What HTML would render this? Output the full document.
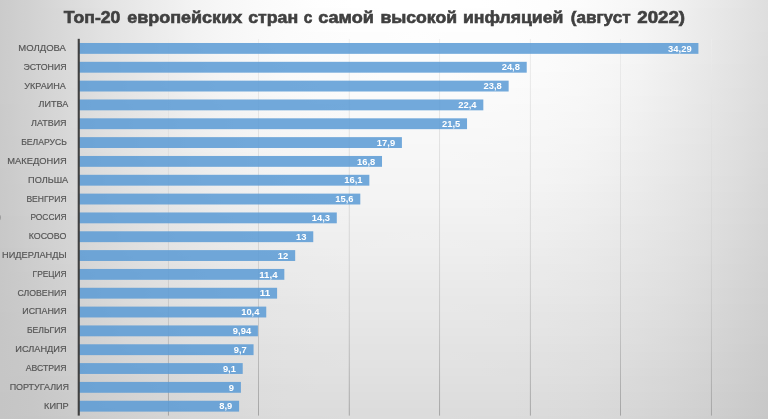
<!DOCTYPE html>
<html lang="ru"><head><meta charset="utf-8"><title>Топ-20 европейских стран с самой высокой инфляцией</title>
<style>
html,body{margin:0;padding:0;background:#e6e6e6;}
body{width:768px;height:419px;overflow:hidden;font-family:"Liberation Sans",sans-serif;}
svg{display:block;will-change:transform;}
text{font-family:"Liberation Sans",sans-serif;}
.lbl{font-size:8.6px;fill:#555555;stroke:#555555;stroke-width:0.16px;}
.val{font-size:8.8px;fill:#ffffff;font-weight:bold;}
.ttl{font-size:17.2px;fill:#404040;font-weight:bold;stroke:#404040;stroke-width:0.62px;}
</style></head><body>
<svg width="768" height="419" viewBox="0 0 768 419">
<defs>
<linearGradient id="b0" gradientUnits="userSpaceOnUse" x1="0" y1="0" x2="768" y2="0"><stop offset="0.0000" stop-color="#cbcbcb"/><stop offset="0.0417" stop-color="#d2d2d2"/><stop offset="0.0833" stop-color="#dadada"/><stop offset="0.1250" stop-color="#e1e1e1"/><stop offset="0.1667" stop-color="#e7e7e7"/><stop offset="0.2083" stop-color="#ededed"/><stop offset="0.2500" stop-color="#f3f3f3"/><stop offset="0.2917" stop-color="#f7f7f7"/><stop offset="0.3333" stop-color="#fafafa"/><stop offset="0.3750" stop-color="#fcfcfc"/><stop offset="0.4167" stop-color="#fefefe"/><stop offset="0.4583" stop-color="#ffffff"/><stop offset="0.5000" stop-color="#ffffff"/><stop offset="0.5417" stop-color="#ffffff"/><stop offset="0.5833" stop-color="#ffffff"/><stop offset="0.6250" stop-color="#ffffff"/><stop offset="0.6667" stop-color="#fefefe"/><stop offset="0.7083" stop-color="#fdfdfd"/><stop offset="0.7500" stop-color="#fcfcfc"/><stop offset="0.7917" stop-color="#f9f9f9"/><stop offset="0.8333" stop-color="#f6f6f6"/><stop offset="0.8750" stop-color="#f1f1f1"/><stop offset="0.9167" stop-color="#ebebeb"/><stop offset="0.9583" stop-color="#e5e5e5"/><stop offset="1.0000" stop-color="#dedede"/></linearGradient>
<linearGradient id="b1" gradientUnits="userSpaceOnUse" x1="0" y1="0" x2="768" y2="0"><stop offset="0.0000" stop-color="#cbcbcb"/><stop offset="0.0417" stop-color="#d2d2d2"/><stop offset="0.0833" stop-color="#d9d9d9"/><stop offset="0.1250" stop-color="#e0e0e0"/><stop offset="0.1667" stop-color="#e7e7e7"/><stop offset="0.2083" stop-color="#ededed"/><stop offset="0.2500" stop-color="#f3f3f3"/><stop offset="0.2917" stop-color="#f7f7f7"/><stop offset="0.3333" stop-color="#fafafa"/><stop offset="0.3750" stop-color="#fcfcfc"/><stop offset="0.4167" stop-color="#fdfdfd"/><stop offset="0.4583" stop-color="#fefefe"/><stop offset="0.5000" stop-color="#ffffff"/><stop offset="0.5417" stop-color="#ffffff"/><stop offset="0.5833" stop-color="#ffffff"/><stop offset="0.6250" stop-color="#fefefe"/><stop offset="0.6667" stop-color="#fefefe"/><stop offset="0.7083" stop-color="#fdfdfd"/><stop offset="0.7500" stop-color="#fbfbfb"/><stop offset="0.7917" stop-color="#f9f9f9"/><stop offset="0.8333" stop-color="#f5f5f5"/><stop offset="0.8750" stop-color="#f1f1f1"/><stop offset="0.9167" stop-color="#eaeaea"/><stop offset="0.9583" stop-color="#e4e4e4"/><stop offset="1.0000" stop-color="#dedede"/></linearGradient>
<linearGradient id="b2" gradientUnits="userSpaceOnUse" x1="0" y1="0" x2="768" y2="0"><stop offset="0.0000" stop-color="#cbcbcb"/><stop offset="0.0417" stop-color="#d2d2d2"/><stop offset="0.0833" stop-color="#d9d9d9"/><stop offset="0.1250" stop-color="#e0e0e0"/><stop offset="0.1667" stop-color="#e6e6e6"/><stop offset="0.2083" stop-color="#ededed"/><stop offset="0.2500" stop-color="#f3f3f3"/><stop offset="0.2917" stop-color="#f7f7f7"/><stop offset="0.3333" stop-color="#fafafa"/><stop offset="0.3750" stop-color="#fcfcfc"/><stop offset="0.4167" stop-color="#fdfdfd"/><stop offset="0.4583" stop-color="#fefefe"/><stop offset="0.5000" stop-color="#fefefe"/><stop offset="0.5417" stop-color="#fefefe"/><stop offset="0.5833" stop-color="#fefefe"/><stop offset="0.6250" stop-color="#fefefe"/><stop offset="0.6667" stop-color="#fefefe"/><stop offset="0.7083" stop-color="#fdfdfd"/><stop offset="0.7500" stop-color="#fbfbfb"/><stop offset="0.7917" stop-color="#f9f9f9"/><stop offset="0.8333" stop-color="#f5f5f5"/><stop offset="0.8750" stop-color="#f0f0f0"/><stop offset="0.9167" stop-color="#eaeaea"/><stop offset="0.9583" stop-color="#e4e4e4"/><stop offset="1.0000" stop-color="#dedede"/></linearGradient>
<linearGradient id="b3" gradientUnits="userSpaceOnUse" x1="0" y1="0" x2="768" y2="0"><stop offset="0.0000" stop-color="#cbcbcb"/><stop offset="0.0417" stop-color="#d2d2d2"/><stop offset="0.0833" stop-color="#d9d9d9"/><stop offset="0.1250" stop-color="#e0e0e0"/><stop offset="0.1667" stop-color="#e6e6e6"/><stop offset="0.2083" stop-color="#ececec"/><stop offset="0.2500" stop-color="#f2f2f2"/><stop offset="0.2917" stop-color="#f6f6f6"/><stop offset="0.3333" stop-color="#f9f9f9"/><stop offset="0.3750" stop-color="#fbfbfb"/><stop offset="0.4167" stop-color="#fdfdfd"/><stop offset="0.4583" stop-color="#fefefe"/><stop offset="0.5000" stop-color="#fefefe"/><stop offset="0.5417" stop-color="#fefefe"/><stop offset="0.5833" stop-color="#fefefe"/><stop offset="0.6250" stop-color="#fefefe"/><stop offset="0.6667" stop-color="#fdfdfd"/><stop offset="0.7083" stop-color="#fcfcfc"/><stop offset="0.7500" stop-color="#fbfbfb"/><stop offset="0.7917" stop-color="#f8f8f8"/><stop offset="0.8333" stop-color="#f5f5f5"/><stop offset="0.8750" stop-color="#f0f0f0"/><stop offset="0.9167" stop-color="#eaeaea"/><stop offset="0.9583" stop-color="#e4e4e4"/><stop offset="1.0000" stop-color="#dedede"/></linearGradient>
<linearGradient id="b4" gradientUnits="userSpaceOnUse" x1="0" y1="0" x2="768" y2="0"><stop offset="0.0000" stop-color="#cbcbcb"/><stop offset="0.0417" stop-color="#d2d2d2"/><stop offset="0.0833" stop-color="#d9d9d9"/><stop offset="0.1250" stop-color="#e0e0e0"/><stop offset="0.1667" stop-color="#e6e6e6"/><stop offset="0.2083" stop-color="#ececec"/><stop offset="0.2500" stop-color="#f2f2f2"/><stop offset="0.2917" stop-color="#f6f6f6"/><stop offset="0.3333" stop-color="#f9f9f9"/><stop offset="0.3750" stop-color="#fbfbfb"/><stop offset="0.4167" stop-color="#fcfcfc"/><stop offset="0.4583" stop-color="#fdfdfd"/><stop offset="0.5000" stop-color="#fdfdfd"/><stop offset="0.5417" stop-color="#fefefe"/><stop offset="0.5833" stop-color="#fdfdfd"/><stop offset="0.6250" stop-color="#fdfdfd"/><stop offset="0.6667" stop-color="#fdfdfd"/><stop offset="0.7083" stop-color="#fcfcfc"/><stop offset="0.7500" stop-color="#fbfbfb"/><stop offset="0.7917" stop-color="#f8f8f8"/><stop offset="0.8333" stop-color="#f5f5f5"/><stop offset="0.8750" stop-color="#f0f0f0"/><stop offset="0.9167" stop-color="#eaeaea"/><stop offset="0.9583" stop-color="#e4e4e4"/><stop offset="1.0000" stop-color="#dddddd"/></linearGradient>
<linearGradient id="b5" gradientUnits="userSpaceOnUse" x1="0" y1="0" x2="768" y2="0"><stop offset="0.0000" stop-color="#cbcbcb"/><stop offset="0.0417" stop-color="#d2d2d2"/><stop offset="0.0833" stop-color="#d9d9d9"/><stop offset="0.1250" stop-color="#e0e0e0"/><stop offset="0.1667" stop-color="#e6e6e6"/><stop offset="0.2083" stop-color="#ececec"/><stop offset="0.2500" stop-color="#f2f2f2"/><stop offset="0.2917" stop-color="#f6f6f6"/><stop offset="0.3333" stop-color="#f9f9f9"/><stop offset="0.3750" stop-color="#fbfbfb"/><stop offset="0.4167" stop-color="#fcfcfc"/><stop offset="0.4583" stop-color="#fdfdfd"/><stop offset="0.5000" stop-color="#fdfdfd"/><stop offset="0.5417" stop-color="#fdfdfd"/><stop offset="0.5833" stop-color="#fdfdfd"/><stop offset="0.6250" stop-color="#fdfdfd"/><stop offset="0.6667" stop-color="#fdfdfd"/><stop offset="0.7083" stop-color="#fcfcfc"/><stop offset="0.7500" stop-color="#fafafa"/><stop offset="0.7917" stop-color="#f7f7f7"/><stop offset="0.8333" stop-color="#f4f4f4"/><stop offset="0.8750" stop-color="#efefef"/><stop offset="0.9167" stop-color="#e9e9e9"/><stop offset="0.9583" stop-color="#e3e3e3"/><stop offset="1.0000" stop-color="#dddddd"/></linearGradient>
<linearGradient id="b6" gradientUnits="userSpaceOnUse" x1="0" y1="0" x2="768" y2="0"><stop offset="0.0000" stop-color="#cbcbcb"/><stop offset="0.0417" stop-color="#d2d2d2"/><stop offset="0.0833" stop-color="#d9d9d9"/><stop offset="0.1250" stop-color="#e0e0e0"/><stop offset="0.1667" stop-color="#e6e6e6"/><stop offset="0.2083" stop-color="#ececec"/><stop offset="0.2500" stop-color="#f1f1f1"/><stop offset="0.2917" stop-color="#f6f6f6"/><stop offset="0.3333" stop-color="#f8f8f8"/><stop offset="0.3750" stop-color="#fbfbfb"/><stop offset="0.4167" stop-color="#fcfcfc"/><stop offset="0.4583" stop-color="#fcfcfc"/><stop offset="0.5000" stop-color="#fdfdfd"/><stop offset="0.5417" stop-color="#fdfdfd"/><stop offset="0.5833" stop-color="#fdfdfd"/><stop offset="0.6250" stop-color="#fdfdfd"/><stop offset="0.6667" stop-color="#fcfcfc"/><stop offset="0.7083" stop-color="#fbfbfb"/><stop offset="0.7500" stop-color="#fafafa"/><stop offset="0.7917" stop-color="#f7f7f7"/><stop offset="0.8333" stop-color="#f4f4f4"/><stop offset="0.8750" stop-color="#efefef"/><stop offset="0.9167" stop-color="#e9e9e9"/><stop offset="0.9583" stop-color="#e3e3e3"/><stop offset="1.0000" stop-color="#dddddd"/></linearGradient>
<linearGradient id="b7" gradientUnits="userSpaceOnUse" x1="0" y1="0" x2="768" y2="0"><stop offset="0.0000" stop-color="#cbcbcb"/><stop offset="0.0417" stop-color="#d2d2d2"/><stop offset="0.0833" stop-color="#d9d9d9"/><stop offset="0.1250" stop-color="#e0e0e0"/><stop offset="0.1667" stop-color="#e6e6e6"/><stop offset="0.2083" stop-color="#ececec"/><stop offset="0.2500" stop-color="#f1f1f1"/><stop offset="0.2917" stop-color="#f5f5f5"/><stop offset="0.3333" stop-color="#f8f8f8"/><stop offset="0.3750" stop-color="#fafafa"/><stop offset="0.4167" stop-color="#fbfbfb"/><stop offset="0.4583" stop-color="#fcfcfc"/><stop offset="0.5000" stop-color="#fcfcfc"/><stop offset="0.5417" stop-color="#fcfcfc"/><stop offset="0.5833" stop-color="#fcfcfc"/><stop offset="0.6250" stop-color="#fcfcfc"/><stop offset="0.6667" stop-color="#fcfcfc"/><stop offset="0.7083" stop-color="#fbfbfb"/><stop offset="0.7500" stop-color="#f9f9f9"/><stop offset="0.7917" stop-color="#f7f7f7"/><stop offset="0.8333" stop-color="#f4f4f4"/><stop offset="0.8750" stop-color="#eeeeee"/><stop offset="0.9167" stop-color="#e9e9e9"/><stop offset="0.9583" stop-color="#e3e3e3"/><stop offset="1.0000" stop-color="#dcdcdc"/></linearGradient>
<linearGradient id="b8" gradientUnits="userSpaceOnUse" x1="0" y1="0" x2="768" y2="0"><stop offset="0.0000" stop-color="#cbcbcb"/><stop offset="0.0417" stop-color="#d2d2d2"/><stop offset="0.0833" stop-color="#d9d9d9"/><stop offset="0.1250" stop-color="#e0e0e0"/><stop offset="0.1667" stop-color="#e6e6e6"/><stop offset="0.2083" stop-color="#ebebeb"/><stop offset="0.2500" stop-color="#f1f1f1"/><stop offset="0.2917" stop-color="#f5f5f5"/><stop offset="0.3333" stop-color="#f8f8f8"/><stop offset="0.3750" stop-color="#fafafa"/><stop offset="0.4167" stop-color="#fbfbfb"/><stop offset="0.4583" stop-color="#fcfcfc"/><stop offset="0.5000" stop-color="#fcfcfc"/><stop offset="0.5417" stop-color="#fcfcfc"/><stop offset="0.5833" stop-color="#fcfcfc"/><stop offset="0.6250" stop-color="#fcfcfc"/><stop offset="0.6667" stop-color="#fbfbfb"/><stop offset="0.7083" stop-color="#fbfbfb"/><stop offset="0.7500" stop-color="#f9f9f9"/><stop offset="0.7917" stop-color="#f6f6f6"/><stop offset="0.8333" stop-color="#f3f3f3"/><stop offset="0.8750" stop-color="#eeeeee"/><stop offset="0.9167" stop-color="#e8e8e8"/><stop offset="0.9583" stop-color="#e2e2e2"/><stop offset="1.0000" stop-color="#dcdcdc"/></linearGradient>
<linearGradient id="b9" gradientUnits="userSpaceOnUse" x1="0" y1="0" x2="768" y2="0"><stop offset="0.0000" stop-color="#cbcbcb"/><stop offset="0.0417" stop-color="#d2d2d2"/><stop offset="0.0833" stop-color="#d9d9d9"/><stop offset="0.1250" stop-color="#dfdfdf"/><stop offset="0.1667" stop-color="#e5e5e5"/><stop offset="0.2083" stop-color="#ebebeb"/><stop offset="0.2500" stop-color="#f0f0f0"/><stop offset="0.2917" stop-color="#f5f5f5"/><stop offset="0.3333" stop-color="#f7f7f7"/><stop offset="0.3750" stop-color="#fafafa"/><stop offset="0.4167" stop-color="#fbfbfb"/><stop offset="0.4583" stop-color="#fbfbfb"/><stop offset="0.5000" stop-color="#fcfcfc"/><stop offset="0.5417" stop-color="#fcfcfc"/><stop offset="0.5833" stop-color="#fcfcfc"/><stop offset="0.6250" stop-color="#fbfbfb"/><stop offset="0.6667" stop-color="#fbfbfb"/><stop offset="0.7083" stop-color="#fafafa"/><stop offset="0.7500" stop-color="#f8f8f8"/><stop offset="0.7917" stop-color="#f6f6f6"/><stop offset="0.8333" stop-color="#f3f3f3"/><stop offset="0.8750" stop-color="#ededed"/><stop offset="0.9167" stop-color="#e8e8e8"/><stop offset="0.9583" stop-color="#e2e2e2"/><stop offset="1.0000" stop-color="#dcdcdc"/></linearGradient>
<linearGradient id="b10" gradientUnits="userSpaceOnUse" x1="0" y1="0" x2="768" y2="0"><stop offset="0.0000" stop-color="#cbcbcb"/><stop offset="0.0417" stop-color="#d1d1d1"/><stop offset="0.0833" stop-color="#d9d9d9"/><stop offset="0.1250" stop-color="#dfdfdf"/><stop offset="0.1667" stop-color="#e5e5e5"/><stop offset="0.2083" stop-color="#ebebeb"/><stop offset="0.2500" stop-color="#f0f0f0"/><stop offset="0.2917" stop-color="#f4f4f4"/><stop offset="0.3333" stop-color="#f7f7f7"/><stop offset="0.3750" stop-color="#f9f9f9"/><stop offset="0.4167" stop-color="#fafafa"/><stop offset="0.4583" stop-color="#fbfbfb"/><stop offset="0.5000" stop-color="#fbfbfb"/><stop offset="0.5417" stop-color="#fbfbfb"/><stop offset="0.5833" stop-color="#fbfbfb"/><stop offset="0.6250" stop-color="#fbfbfb"/><stop offset="0.6667" stop-color="#fbfbfb"/><stop offset="0.7083" stop-color="#fafafa"/><stop offset="0.7500" stop-color="#f8f8f8"/><stop offset="0.7917" stop-color="#f6f6f6"/><stop offset="0.8333" stop-color="#f2f2f2"/><stop offset="0.8750" stop-color="#ededed"/><stop offset="0.9167" stop-color="#e7e7e7"/><stop offset="0.9583" stop-color="#e2e2e2"/><stop offset="1.0000" stop-color="#dbdbdb"/></linearGradient>
<linearGradient id="b11" gradientUnits="userSpaceOnUse" x1="0" y1="0" x2="768" y2="0"><stop offset="0.0000" stop-color="#cbcbcb"/><stop offset="0.0417" stop-color="#d1d1d1"/><stop offset="0.0833" stop-color="#d8d8d8"/><stop offset="0.1250" stop-color="#dfdfdf"/><stop offset="0.1667" stop-color="#e5e5e5"/><stop offset="0.2083" stop-color="#eaeaea"/><stop offset="0.2500" stop-color="#f0f0f0"/><stop offset="0.2917" stop-color="#f4f4f4"/><stop offset="0.3333" stop-color="#f7f7f7"/><stop offset="0.3750" stop-color="#f9f9f9"/><stop offset="0.4167" stop-color="#fafafa"/><stop offset="0.4583" stop-color="#fbfbfb"/><stop offset="0.5000" stop-color="#fbfbfb"/><stop offset="0.5417" stop-color="#fbfbfb"/><stop offset="0.5833" stop-color="#fbfbfb"/><stop offset="0.6250" stop-color="#fbfbfb"/><stop offset="0.6667" stop-color="#fafafa"/><stop offset="0.7083" stop-color="#f9f9f9"/><stop offset="0.7500" stop-color="#f8f8f8"/><stop offset="0.7917" stop-color="#f5f5f5"/><stop offset="0.8333" stop-color="#f2f2f2"/><stop offset="0.8750" stop-color="#ededed"/><stop offset="0.9167" stop-color="#e7e7e7"/><stop offset="0.9583" stop-color="#e1e1e1"/><stop offset="1.0000" stop-color="#dbdbdb"/></linearGradient>
<linearGradient id="b12" gradientUnits="userSpaceOnUse" x1="0" y1="0" x2="768" y2="0"><stop offset="0.0000" stop-color="#cbcbcb"/><stop offset="0.0417" stop-color="#d1d1d1"/><stop offset="0.0833" stop-color="#d8d8d8"/><stop offset="0.1250" stop-color="#dfdfdf"/><stop offset="0.1667" stop-color="#e5e5e5"/><stop offset="0.2083" stop-color="#eaeaea"/><stop offset="0.2500" stop-color="#efefef"/><stop offset="0.2917" stop-color="#f4f4f4"/><stop offset="0.3333" stop-color="#f6f6f6"/><stop offset="0.3750" stop-color="#f8f8f8"/><stop offset="0.4167" stop-color="#fafafa"/><stop offset="0.4583" stop-color="#fafafa"/><stop offset="0.5000" stop-color="#fafafa"/><stop offset="0.5417" stop-color="#fafafa"/><stop offset="0.5833" stop-color="#fafafa"/><stop offset="0.6250" stop-color="#fafafa"/><stop offset="0.6667" stop-color="#fafafa"/><stop offset="0.7083" stop-color="#f9f9f9"/><stop offset="0.7500" stop-color="#f7f7f7"/><stop offset="0.7917" stop-color="#f5f5f5"/><stop offset="0.8333" stop-color="#f1f1f1"/><stop offset="0.8750" stop-color="#ececec"/><stop offset="0.9167" stop-color="#e7e7e7"/><stop offset="0.9583" stop-color="#e1e1e1"/><stop offset="1.0000" stop-color="#dbdbdb"/></linearGradient>
<linearGradient id="b13" gradientUnits="userSpaceOnUse" x1="0" y1="0" x2="768" y2="0"><stop offset="0.0000" stop-color="#cacaca"/><stop offset="0.0417" stop-color="#d1d1d1"/><stop offset="0.0833" stop-color="#d8d8d8"/><stop offset="0.1250" stop-color="#dfdfdf"/><stop offset="0.1667" stop-color="#e4e4e4"/><stop offset="0.2083" stop-color="#eaeaea"/><stop offset="0.2500" stop-color="#efefef"/><stop offset="0.2917" stop-color="#f3f3f3"/><stop offset="0.3333" stop-color="#f6f6f6"/><stop offset="0.3750" stop-color="#f8f8f8"/><stop offset="0.4167" stop-color="#f9f9f9"/><stop offset="0.4583" stop-color="#fafafa"/><stop offset="0.5000" stop-color="#fafafa"/><stop offset="0.5417" stop-color="#fafafa"/><stop offset="0.5833" stop-color="#fafafa"/><stop offset="0.6250" stop-color="#fafafa"/><stop offset="0.6667" stop-color="#f9f9f9"/><stop offset="0.7083" stop-color="#f8f8f8"/><stop offset="0.7500" stop-color="#f7f7f7"/><stop offset="0.7917" stop-color="#f4f4f4"/><stop offset="0.8333" stop-color="#f1f1f1"/><stop offset="0.8750" stop-color="#ececec"/><stop offset="0.9167" stop-color="#e6e6e6"/><stop offset="0.9583" stop-color="#e1e1e1"/><stop offset="1.0000" stop-color="#dadada"/></linearGradient>
<linearGradient id="b14" gradientUnits="userSpaceOnUse" x1="0" y1="0" x2="768" y2="0"><stop offset="0.0000" stop-color="#cacaca"/><stop offset="0.0417" stop-color="#d1d1d1"/><stop offset="0.0833" stop-color="#d8d8d8"/><stop offset="0.1250" stop-color="#dfdfdf"/><stop offset="0.1667" stop-color="#e4e4e4"/><stop offset="0.2083" stop-color="#e9e9e9"/><stop offset="0.2500" stop-color="#efefef"/><stop offset="0.2917" stop-color="#f3f3f3"/><stop offset="0.3333" stop-color="#f5f5f5"/><stop offset="0.3750" stop-color="#f7f7f7"/><stop offset="0.4167" stop-color="#f8f8f8"/><stop offset="0.4583" stop-color="#f9f9f9"/><stop offset="0.5000" stop-color="#f9f9f9"/><stop offset="0.5417" stop-color="#f9f9f9"/><stop offset="0.5833" stop-color="#f9f9f9"/><stop offset="0.6250" stop-color="#f9f9f9"/><stop offset="0.6667" stop-color="#f9f9f9"/><stop offset="0.7083" stop-color="#f8f8f8"/><stop offset="0.7500" stop-color="#f6f6f6"/><stop offset="0.7917" stop-color="#f4f4f4"/><stop offset="0.8333" stop-color="#f0f0f0"/><stop offset="0.8750" stop-color="#ebebeb"/><stop offset="0.9167" stop-color="#e6e6e6"/><stop offset="0.9583" stop-color="#e0e0e0"/><stop offset="1.0000" stop-color="#dadada"/></linearGradient>
<linearGradient id="b15" gradientUnits="userSpaceOnUse" x1="0" y1="0" x2="768" y2="0"><stop offset="0.0000" stop-color="#cacaca"/><stop offset="0.0417" stop-color="#d1d1d1"/><stop offset="0.0833" stop-color="#d8d8d8"/><stop offset="0.1250" stop-color="#dedede"/><stop offset="0.1667" stop-color="#e4e4e4"/><stop offset="0.2083" stop-color="#e9e9e9"/><stop offset="0.2500" stop-color="#eeeeee"/><stop offset="0.2917" stop-color="#f2f2f2"/><stop offset="0.3333" stop-color="#f5f5f5"/><stop offset="0.3750" stop-color="#f7f7f7"/><stop offset="0.4167" stop-color="#f8f8f8"/><stop offset="0.4583" stop-color="#f9f9f9"/><stop offset="0.5000" stop-color="#f9f9f9"/><stop offset="0.5417" stop-color="#f9f9f9"/><stop offset="0.5833" stop-color="#f9f9f9"/><stop offset="0.6250" stop-color="#f9f9f9"/><stop offset="0.6667" stop-color="#f8f8f8"/><stop offset="0.7083" stop-color="#f7f7f7"/><stop offset="0.7500" stop-color="#f6f6f6"/><stop offset="0.7917" stop-color="#f4f4f4"/><stop offset="0.8333" stop-color="#efefef"/><stop offset="0.8750" stop-color="#ebebeb"/><stop offset="0.9167" stop-color="#e6e6e6"/><stop offset="0.9583" stop-color="#e0e0e0"/><stop offset="1.0000" stop-color="#dadada"/></linearGradient>
<linearGradient id="b16" gradientUnits="userSpaceOnUse" x1="0" y1="0" x2="768" y2="0"><stop offset="0.0000" stop-color="#cacaca"/><stop offset="0.0417" stop-color="#d1d1d1"/><stop offset="0.0833" stop-color="#d7d7d7"/><stop offset="0.1250" stop-color="#dedede"/><stop offset="0.1667" stop-color="#e4e4e4"/><stop offset="0.2083" stop-color="#e9e9e9"/><stop offset="0.2500" stop-color="#eeeeee"/><stop offset="0.2917" stop-color="#f2f2f2"/><stop offset="0.3333" stop-color="#f5f5f5"/><stop offset="0.3750" stop-color="#f6f6f6"/><stop offset="0.4167" stop-color="#f7f7f7"/><stop offset="0.4583" stop-color="#f8f8f8"/><stop offset="0.5000" stop-color="#f8f8f8"/><stop offset="0.5417" stop-color="#f8f8f8"/><stop offset="0.5833" stop-color="#f8f8f8"/><stop offset="0.6250" stop-color="#f8f8f8"/><stop offset="0.6667" stop-color="#f8f8f8"/><stop offset="0.7083" stop-color="#f7f7f7"/><stop offset="0.7500" stop-color="#f5f5f5"/><stop offset="0.7917" stop-color="#f3f3f3"/><stop offset="0.8333" stop-color="#efefef"/><stop offset="0.8750" stop-color="#eaeaea"/><stop offset="0.9167" stop-color="#e5e5e5"/><stop offset="0.9583" stop-color="#e0e0e0"/><stop offset="1.0000" stop-color="#d9d9d9"/></linearGradient>
<linearGradient id="b17" gradientUnits="userSpaceOnUse" x1="0" y1="0" x2="768" y2="0"><stop offset="0.0000" stop-color="#cacaca"/><stop offset="0.0417" stop-color="#d0d0d0"/><stop offset="0.0833" stop-color="#d7d7d7"/><stop offset="0.1250" stop-color="#dedede"/><stop offset="0.1667" stop-color="#e3e3e3"/><stop offset="0.2083" stop-color="#e8e8e8"/><stop offset="0.2500" stop-color="#ededed"/><stop offset="0.2917" stop-color="#f1f1f1"/><stop offset="0.3333" stop-color="#f4f4f4"/><stop offset="0.3750" stop-color="#f6f6f6"/><stop offset="0.4167" stop-color="#f7f7f7"/><stop offset="0.4583" stop-color="#f7f7f7"/><stop offset="0.5000" stop-color="#f8f8f8"/><stop offset="0.5417" stop-color="#f8f8f8"/><stop offset="0.5833" stop-color="#f8f8f8"/><stop offset="0.6250" stop-color="#f8f8f8"/><stop offset="0.6667" stop-color="#f7f7f7"/><stop offset="0.7083" stop-color="#f6f6f6"/><stop offset="0.7500" stop-color="#f5f5f5"/><stop offset="0.7917" stop-color="#f2f2f2"/><stop offset="0.8333" stop-color="#eeeeee"/><stop offset="0.8750" stop-color="#eaeaea"/><stop offset="0.9167" stop-color="#e5e5e5"/><stop offset="0.9583" stop-color="#dfdfdf"/><stop offset="1.0000" stop-color="#d9d9d9"/></linearGradient>
<linearGradient id="b18" gradientUnits="userSpaceOnUse" x1="0" y1="0" x2="768" y2="0"><stop offset="0.0000" stop-color="#cacaca"/><stop offset="0.0417" stop-color="#d0d0d0"/><stop offset="0.0833" stop-color="#d7d7d7"/><stop offset="0.1250" stop-color="#dedede"/><stop offset="0.1667" stop-color="#e3e3e3"/><stop offset="0.2083" stop-color="#e8e8e8"/><stop offset="0.2500" stop-color="#ededed"/><stop offset="0.2917" stop-color="#f1f1f1"/><stop offset="0.3333" stop-color="#f4f4f4"/><stop offset="0.3750" stop-color="#f5f5f5"/><stop offset="0.4167" stop-color="#f6f6f6"/><stop offset="0.4583" stop-color="#f7f7f7"/><stop offset="0.5000" stop-color="#f7f7f7"/><stop offset="0.5417" stop-color="#f7f7f7"/><stop offset="0.5833" stop-color="#f7f7f7"/><stop offset="0.6250" stop-color="#f7f7f7"/><stop offset="0.6667" stop-color="#f7f7f7"/><stop offset="0.7083" stop-color="#f6f6f6"/><stop offset="0.7500" stop-color="#f4f4f4"/><stop offset="0.7917" stop-color="#f2f2f2"/><stop offset="0.8333" stop-color="#eeeeee"/><stop offset="0.8750" stop-color="#e9e9e9"/><stop offset="0.9167" stop-color="#e4e4e4"/><stop offset="0.9583" stop-color="#dfdfdf"/><stop offset="1.0000" stop-color="#d9d9d9"/></linearGradient>
<linearGradient id="b19" gradientUnits="userSpaceOnUse" x1="0" y1="0" x2="768" y2="0"><stop offset="0.0000" stop-color="#cacaca"/><stop offset="0.0417" stop-color="#d0d0d0"/><stop offset="0.0833" stop-color="#d7d7d7"/><stop offset="0.1250" stop-color="#dddddd"/><stop offset="0.1667" stop-color="#e3e3e3"/><stop offset="0.2083" stop-color="#e8e8e8"/><stop offset="0.2500" stop-color="#ececec"/><stop offset="0.2917" stop-color="#f0f0f0"/><stop offset="0.3333" stop-color="#f3f3f3"/><stop offset="0.3750" stop-color="#f5f5f5"/><stop offset="0.4167" stop-color="#f6f6f6"/><stop offset="0.4583" stop-color="#f6f6f6"/><stop offset="0.5000" stop-color="#f7f7f7"/><stop offset="0.5417" stop-color="#f7f7f7"/><stop offset="0.5833" stop-color="#f7f7f7"/><stop offset="0.6250" stop-color="#f6f6f6"/><stop offset="0.6667" stop-color="#f6f6f6"/><stop offset="0.7083" stop-color="#f5f5f5"/><stop offset="0.7500" stop-color="#f4f4f4"/><stop offset="0.7917" stop-color="#f1f1f1"/><stop offset="0.8333" stop-color="#ededed"/><stop offset="0.8750" stop-color="#e9e9e9"/><stop offset="0.9167" stop-color="#e4e4e4"/><stop offset="0.9583" stop-color="#dfdfdf"/><stop offset="1.0000" stop-color="#d8d8d8"/></linearGradient>
<linearGradient id="b20" gradientUnits="userSpaceOnUse" x1="0" y1="0" x2="768" y2="0"><stop offset="0.0000" stop-color="#cacaca"/><stop offset="0.0417" stop-color="#d0d0d0"/><stop offset="0.0833" stop-color="#d6d6d6"/><stop offset="0.1250" stop-color="#dddddd"/><stop offset="0.1667" stop-color="#e2e2e2"/><stop offset="0.2083" stop-color="#e7e7e7"/><stop offset="0.2500" stop-color="#ececec"/><stop offset="0.2917" stop-color="#f0f0f0"/><stop offset="0.3333" stop-color="#f3f3f3"/><stop offset="0.3750" stop-color="#f4f4f4"/><stop offset="0.4167" stop-color="#f5f5f5"/><stop offset="0.4583" stop-color="#f6f6f6"/><stop offset="0.5000" stop-color="#f6f6f6"/><stop offset="0.5417" stop-color="#f6f6f6"/><stop offset="0.5833" stop-color="#f6f6f6"/><stop offset="0.6250" stop-color="#f6f6f6"/><stop offset="0.6667" stop-color="#f5f5f5"/><stop offset="0.7083" stop-color="#f5f5f5"/><stop offset="0.7500" stop-color="#f3f3f3"/><stop offset="0.7917" stop-color="#f0f0f0"/><stop offset="0.8333" stop-color="#ececec"/><stop offset="0.8750" stop-color="#e8e8e8"/><stop offset="0.9167" stop-color="#e3e3e3"/><stop offset="0.9583" stop-color="#dedede"/><stop offset="1.0000" stop-color="#d8d8d8"/></linearGradient>
<linearGradient id="b21" gradientUnits="userSpaceOnUse" x1="0" y1="0" x2="768" y2="0"><stop offset="0.0000" stop-color="#c9c9c9"/><stop offset="0.0417" stop-color="#d0d0d0"/><stop offset="0.0833" stop-color="#d6d6d6"/><stop offset="0.1250" stop-color="#dddddd"/><stop offset="0.1667" stop-color="#e2e2e2"/><stop offset="0.2083" stop-color="#e7e7e7"/><stop offset="0.2500" stop-color="#ebebeb"/><stop offset="0.2917" stop-color="#efefef"/><stop offset="0.3333" stop-color="#f2f2f2"/><stop offset="0.3750" stop-color="#f4f4f4"/><stop offset="0.4167" stop-color="#f5f5f5"/><stop offset="0.4583" stop-color="#f5f5f5"/><stop offset="0.5000" stop-color="#f5f5f5"/><stop offset="0.5417" stop-color="#f5f5f5"/><stop offset="0.5833" stop-color="#f5f5f5"/><stop offset="0.6250" stop-color="#f5f5f5"/><stop offset="0.6667" stop-color="#f5f5f5"/><stop offset="0.7083" stop-color="#f4f4f4"/><stop offset="0.7500" stop-color="#f2f2f2"/><stop offset="0.7917" stop-color="#f0f0f0"/><stop offset="0.8333" stop-color="#ececec"/><stop offset="0.8750" stop-color="#e8e8e8"/><stop offset="0.9167" stop-color="#e3e3e3"/><stop offset="0.9583" stop-color="#dedede"/><stop offset="1.0000" stop-color="#d7d7d7"/></linearGradient>
<linearGradient id="b22" gradientUnits="userSpaceOnUse" x1="0" y1="0" x2="768" y2="0"><stop offset="0.0000" stop-color="#c9c9c9"/><stop offset="0.0417" stop-color="#d0d0d0"/><stop offset="0.0833" stop-color="#d6d6d6"/><stop offset="0.1250" stop-color="#dcdcdc"/><stop offset="0.1667" stop-color="#e2e2e2"/><stop offset="0.2083" stop-color="#e6e6e6"/><stop offset="0.2500" stop-color="#ebebeb"/><stop offset="0.2917" stop-color="#eeeeee"/><stop offset="0.3333" stop-color="#f1f1f1"/><stop offset="0.3750" stop-color="#f3f3f3"/><stop offset="0.4167" stop-color="#f4f4f4"/><stop offset="0.4583" stop-color="#f5f5f5"/><stop offset="0.5000" stop-color="#f5f5f5"/><stop offset="0.5417" stop-color="#f5f5f5"/><stop offset="0.5833" stop-color="#f5f5f5"/><stop offset="0.6250" stop-color="#f5f5f5"/><stop offset="0.6667" stop-color="#f4f4f4"/><stop offset="0.7083" stop-color="#f4f4f4"/><stop offset="0.7500" stop-color="#f2f2f2"/><stop offset="0.7917" stop-color="#efefef"/><stop offset="0.8333" stop-color="#ebebeb"/><stop offset="0.8750" stop-color="#e7e7e7"/><stop offset="0.9167" stop-color="#e2e2e2"/><stop offset="0.9583" stop-color="#dddddd"/><stop offset="1.0000" stop-color="#d7d7d7"/></linearGradient>
<linearGradient id="b23" gradientUnits="userSpaceOnUse" x1="0" y1="0" x2="768" y2="0"><stop offset="0.0000" stop-color="#c9c9c9"/><stop offset="0.0417" stop-color="#cfcfcf"/><stop offset="0.0833" stop-color="#d6d6d6"/><stop offset="0.1250" stop-color="#dcdcdc"/><stop offset="0.1667" stop-color="#e1e1e1"/><stop offset="0.2083" stop-color="#e6e6e6"/><stop offset="0.2500" stop-color="#eaeaea"/><stop offset="0.2917" stop-color="#eeeeee"/><stop offset="0.3333" stop-color="#f1f1f1"/><stop offset="0.3750" stop-color="#f3f3f3"/><stop offset="0.4167" stop-color="#f4f4f4"/><stop offset="0.4583" stop-color="#f4f4f4"/><stop offset="0.5000" stop-color="#f4f4f4"/><stop offset="0.5417" stop-color="#f4f4f4"/><stop offset="0.5833" stop-color="#f4f4f4"/><stop offset="0.6250" stop-color="#f4f4f4"/><stop offset="0.6667" stop-color="#f4f4f4"/><stop offset="0.7083" stop-color="#f3f3f3"/><stop offset="0.7500" stop-color="#f1f1f1"/><stop offset="0.7917" stop-color="#eeeeee"/><stop offset="0.8333" stop-color="#ebebeb"/><stop offset="0.8750" stop-color="#e6e6e6"/><stop offset="0.9167" stop-color="#e2e2e2"/><stop offset="0.9583" stop-color="#dddddd"/><stop offset="1.0000" stop-color="#d6d6d6"/></linearGradient>
<linearGradient id="b24" gradientUnits="userSpaceOnUse" x1="0" y1="0" x2="768" y2="0"><stop offset="0.0000" stop-color="#c9c9c9"/><stop offset="0.0417" stop-color="#cfcfcf"/><stop offset="0.0833" stop-color="#d5d5d5"/><stop offset="0.1250" stop-color="#dcdcdc"/><stop offset="0.1667" stop-color="#e1e1e1"/><stop offset="0.2083" stop-color="#e5e5e5"/><stop offset="0.2500" stop-color="#eaeaea"/><stop offset="0.2917" stop-color="#ededed"/><stop offset="0.3333" stop-color="#f0f0f0"/><stop offset="0.3750" stop-color="#f2f2f2"/><stop offset="0.4167" stop-color="#f3f3f3"/><stop offset="0.4583" stop-color="#f4f4f4"/><stop offset="0.5000" stop-color="#f4f4f4"/><stop offset="0.5417" stop-color="#f4f4f4"/><stop offset="0.5833" stop-color="#f4f4f4"/><stop offset="0.6250" stop-color="#f4f4f4"/><stop offset="0.6667" stop-color="#f3f3f3"/><stop offset="0.7083" stop-color="#f2f2f2"/><stop offset="0.7500" stop-color="#f0f0f0"/><stop offset="0.7917" stop-color="#ededed"/><stop offset="0.8333" stop-color="#eaeaea"/><stop offset="0.8750" stop-color="#e6e6e6"/><stop offset="0.9167" stop-color="#e1e1e1"/><stop offset="0.9583" stop-color="#dcdcdc"/><stop offset="1.0000" stop-color="#d6d6d6"/></linearGradient>
<linearGradient id="b25" gradientUnits="userSpaceOnUse" x1="0" y1="0" x2="768" y2="0"><stop offset="0.0000" stop-color="#c9c9c9"/><stop offset="0.0417" stop-color="#cfcfcf"/><stop offset="0.0833" stop-color="#d5d5d5"/><stop offset="0.1250" stop-color="#dbdbdb"/><stop offset="0.1667" stop-color="#e1e1e1"/><stop offset="0.2083" stop-color="#e5e5e5"/><stop offset="0.2500" stop-color="#e9e9e9"/><stop offset="0.2917" stop-color="#ececec"/><stop offset="0.3333" stop-color="#efefef"/><stop offset="0.3750" stop-color="#f1f1f1"/><stop offset="0.4167" stop-color="#f2f2f2"/><stop offset="0.4583" stop-color="#f3f3f3"/><stop offset="0.5000" stop-color="#f3f3f3"/><stop offset="0.5417" stop-color="#f3f3f3"/><stop offset="0.5833" stop-color="#f3f3f3"/><stop offset="0.6250" stop-color="#f3f3f3"/><stop offset="0.6667" stop-color="#f2f2f2"/><stop offset="0.7083" stop-color="#f1f1f1"/><stop offset="0.7500" stop-color="#efefef"/><stop offset="0.7917" stop-color="#ededed"/><stop offset="0.8333" stop-color="#e9e9e9"/><stop offset="0.8750" stop-color="#e5e5e5"/><stop offset="0.9167" stop-color="#e1e1e1"/><stop offset="0.9583" stop-color="#dcdcdc"/><stop offset="1.0000" stop-color="#d6d6d6"/></linearGradient>
<linearGradient id="b26" gradientUnits="userSpaceOnUse" x1="0" y1="0" x2="768" y2="0"><stop offset="0.0000" stop-color="#c9c9c9"/><stop offset="0.0417" stop-color="#cfcfcf"/><stop offset="0.0833" stop-color="#d5d5d5"/><stop offset="0.1250" stop-color="#dbdbdb"/><stop offset="0.1667" stop-color="#e0e0e0"/><stop offset="0.2083" stop-color="#e5e5e5"/><stop offset="0.2500" stop-color="#e8e8e8"/><stop offset="0.2917" stop-color="#ececec"/><stop offset="0.3333" stop-color="#eeeeee"/><stop offset="0.3750" stop-color="#f0f0f0"/><stop offset="0.4167" stop-color="#f1f1f1"/><stop offset="0.4583" stop-color="#f2f2f2"/><stop offset="0.5000" stop-color="#f2f2f2"/><stop offset="0.5417" stop-color="#f2f2f2"/><stop offset="0.5833" stop-color="#f2f2f2"/><stop offset="0.6250" stop-color="#f2f2f2"/><stop offset="0.6667" stop-color="#f1f1f1"/><stop offset="0.7083" stop-color="#f0f0f0"/><stop offset="0.7500" stop-color="#eeeeee"/><stop offset="0.7917" stop-color="#ececec"/><stop offset="0.8333" stop-color="#e9e9e9"/><stop offset="0.8750" stop-color="#e5e5e5"/><stop offset="0.9167" stop-color="#e0e0e0"/><stop offset="0.9583" stop-color="#dbdbdb"/><stop offset="1.0000" stop-color="#d5d5d5"/></linearGradient>
<linearGradient id="b27" gradientUnits="userSpaceOnUse" x1="0" y1="0" x2="768" y2="0"><stop offset="0.0000" stop-color="#c8c8c8"/><stop offset="0.0417" stop-color="#cecece"/><stop offset="0.0833" stop-color="#d4d4d4"/><stop offset="0.1250" stop-color="#dadada"/><stop offset="0.1667" stop-color="#e0e0e0"/><stop offset="0.2083" stop-color="#e4e4e4"/><stop offset="0.2500" stop-color="#e8e8e8"/><stop offset="0.2917" stop-color="#ebebeb"/><stop offset="0.3333" stop-color="#eeeeee"/><stop offset="0.3750" stop-color="#efefef"/><stop offset="0.4167" stop-color="#f0f0f0"/><stop offset="0.4583" stop-color="#f1f1f1"/><stop offset="0.5000" stop-color="#f1f1f1"/><stop offset="0.5417" stop-color="#f1f1f1"/><stop offset="0.5833" stop-color="#f1f1f1"/><stop offset="0.6250" stop-color="#f1f1f1"/><stop offset="0.6667" stop-color="#f1f1f1"/><stop offset="0.7083" stop-color="#efefef"/><stop offset="0.7500" stop-color="#eeeeee"/><stop offset="0.7917" stop-color="#ebebeb"/><stop offset="0.8333" stop-color="#e8e8e8"/><stop offset="0.8750" stop-color="#e4e4e4"/><stop offset="0.9167" stop-color="#e0e0e0"/><stop offset="0.9583" stop-color="#dbdbdb"/><stop offset="1.0000" stop-color="#d5d5d5"/></linearGradient>
<linearGradient id="b28" gradientUnits="userSpaceOnUse" x1="0" y1="0" x2="768" y2="0"><stop offset="0.0000" stop-color="#c8c8c8"/><stop offset="0.0417" stop-color="#cecece"/><stop offset="0.0833" stop-color="#d4d4d4"/><stop offset="0.1250" stop-color="#dadada"/><stop offset="0.1667" stop-color="#dfdfdf"/><stop offset="0.2083" stop-color="#e4e4e4"/><stop offset="0.2500" stop-color="#e7e7e7"/><stop offset="0.2917" stop-color="#eaeaea"/><stop offset="0.3333" stop-color="#ededed"/><stop offset="0.3750" stop-color="#efefef"/><stop offset="0.4167" stop-color="#f0f0f0"/><stop offset="0.4583" stop-color="#f0f0f0"/><stop offset="0.5000" stop-color="#f0f0f0"/><stop offset="0.5417" stop-color="#f0f0f0"/><stop offset="0.5833" stop-color="#f0f0f0"/><stop offset="0.6250" stop-color="#f0f0f0"/><stop offset="0.6667" stop-color="#f0f0f0"/><stop offset="0.7083" stop-color="#efefef"/><stop offset="0.7500" stop-color="#ededed"/><stop offset="0.7917" stop-color="#eaeaea"/><stop offset="0.8333" stop-color="#e7e7e7"/><stop offset="0.8750" stop-color="#e4e4e4"/><stop offset="0.9167" stop-color="#dfdfdf"/><stop offset="0.9583" stop-color="#dadada"/><stop offset="1.0000" stop-color="#d4d4d4"/></linearGradient>
<linearGradient id="b29" gradientUnits="userSpaceOnUse" x1="0" y1="0" x2="768" y2="0"><stop offset="0.0000" stop-color="#c8c8c8"/><stop offset="0.0417" stop-color="#cecece"/><stop offset="0.0833" stop-color="#d4d4d4"/><stop offset="0.1250" stop-color="#dadada"/><stop offset="0.1667" stop-color="#dfdfdf"/><stop offset="0.2083" stop-color="#e3e3e3"/><stop offset="0.2500" stop-color="#e7e7e7"/><stop offset="0.2917" stop-color="#eaeaea"/><stop offset="0.3333" stop-color="#ececec"/><stop offset="0.3750" stop-color="#eeeeee"/><stop offset="0.4167" stop-color="#efefef"/><stop offset="0.4583" stop-color="#efefef"/><stop offset="0.5000" stop-color="#efefef"/><stop offset="0.5417" stop-color="#f0f0f0"/><stop offset="0.5833" stop-color="#efefef"/><stop offset="0.6250" stop-color="#efefef"/><stop offset="0.6667" stop-color="#efefef"/><stop offset="0.7083" stop-color="#eeeeee"/><stop offset="0.7500" stop-color="#ececec"/><stop offset="0.7917" stop-color="#eaeaea"/><stop offset="0.8333" stop-color="#e7e7e7"/><stop offset="0.8750" stop-color="#e3e3e3"/><stop offset="0.9167" stop-color="#dfdfdf"/><stop offset="0.9583" stop-color="#dadada"/><stop offset="1.0000" stop-color="#d4d4d4"/></linearGradient>
<linearGradient id="b30" gradientUnits="userSpaceOnUse" x1="0" y1="0" x2="768" y2="0"><stop offset="0.0000" stop-color="#c8c8c8"/><stop offset="0.0417" stop-color="#cecece"/><stop offset="0.0833" stop-color="#d3d3d3"/><stop offset="0.1250" stop-color="#d9d9d9"/><stop offset="0.1667" stop-color="#dedede"/><stop offset="0.2083" stop-color="#e3e3e3"/><stop offset="0.2500" stop-color="#e6e6e6"/><stop offset="0.2917" stop-color="#e9e9e9"/><stop offset="0.3333" stop-color="#ebebeb"/><stop offset="0.3750" stop-color="#ededed"/><stop offset="0.4167" stop-color="#eeeeee"/><stop offset="0.4583" stop-color="#eeeeee"/><stop offset="0.5000" stop-color="#efefef"/><stop offset="0.5417" stop-color="#efefef"/><stop offset="0.5833" stop-color="#efefef"/><stop offset="0.6250" stop-color="#eeeeee"/><stop offset="0.6667" stop-color="#eeeeee"/><stop offset="0.7083" stop-color="#ededed"/><stop offset="0.7500" stop-color="#ebebeb"/><stop offset="0.7917" stop-color="#e9e9e9"/><stop offset="0.8333" stop-color="#e6e6e6"/><stop offset="0.8750" stop-color="#e2e2e2"/><stop offset="0.9167" stop-color="#dedede"/><stop offset="0.9583" stop-color="#d9d9d9"/><stop offset="1.0000" stop-color="#d3d3d3"/></linearGradient>
<linearGradient id="b31" gradientUnits="userSpaceOnUse" x1="0" y1="0" x2="768" y2="0"><stop offset="0.0000" stop-color="#c7c7c7"/><stop offset="0.0417" stop-color="#cdcdcd"/><stop offset="0.0833" stop-color="#d3d3d3"/><stop offset="0.1250" stop-color="#d9d9d9"/><stop offset="0.1667" stop-color="#dedede"/><stop offset="0.2083" stop-color="#e2e2e2"/><stop offset="0.2500" stop-color="#e6e6e6"/><stop offset="0.2917" stop-color="#e8e8e8"/><stop offset="0.3333" stop-color="#ebebeb"/><stop offset="0.3750" stop-color="#ececec"/><stop offset="0.4167" stop-color="#ededed"/><stop offset="0.4583" stop-color="#eeeeee"/><stop offset="0.5000" stop-color="#eeeeee"/><stop offset="0.5417" stop-color="#eeeeee"/><stop offset="0.5833" stop-color="#eeeeee"/><stop offset="0.6250" stop-color="#eeeeee"/><stop offset="0.6667" stop-color="#ededed"/><stop offset="0.7083" stop-color="#ececec"/><stop offset="0.7500" stop-color="#eaeaea"/><stop offset="0.7917" stop-color="#e8e8e8"/><stop offset="0.8333" stop-color="#e5e5e5"/><stop offset="0.8750" stop-color="#e2e2e2"/><stop offset="0.9167" stop-color="#dedede"/><stop offset="0.9583" stop-color="#d8d8d8"/><stop offset="1.0000" stop-color="#d3d3d3"/></linearGradient>
<linearGradient id="b32" gradientUnits="userSpaceOnUse" x1="0" y1="0" x2="768" y2="0"><stop offset="0.0000" stop-color="#c7c7c7"/><stop offset="0.0417" stop-color="#cdcdcd"/><stop offset="0.0833" stop-color="#d3d3d3"/><stop offset="0.1250" stop-color="#d8d8d8"/><stop offset="0.1667" stop-color="#dddddd"/><stop offset="0.2083" stop-color="#e2e2e2"/><stop offset="0.2500" stop-color="#e5e5e5"/><stop offset="0.2917" stop-color="#e8e8e8"/><stop offset="0.3333" stop-color="#eaeaea"/><stop offset="0.3750" stop-color="#ebebeb"/><stop offset="0.4167" stop-color="#ececec"/><stop offset="0.4583" stop-color="#ededed"/><stop offset="0.5000" stop-color="#ededed"/><stop offset="0.5417" stop-color="#ededed"/><stop offset="0.5833" stop-color="#ededed"/><stop offset="0.6250" stop-color="#ededed"/><stop offset="0.6667" stop-color="#ececec"/><stop offset="0.7083" stop-color="#ebebeb"/><stop offset="0.7500" stop-color="#eaeaea"/><stop offset="0.7917" stop-color="#e7e7e7"/><stop offset="0.8333" stop-color="#e5e5e5"/><stop offset="0.8750" stop-color="#e1e1e1"/><stop offset="0.9167" stop-color="#dddddd"/><stop offset="0.9583" stop-color="#d8d8d8"/><stop offset="1.0000" stop-color="#d2d2d2"/></linearGradient>
<linearGradient id="b33" gradientUnits="userSpaceOnUse" x1="0" y1="0" x2="768" y2="0"><stop offset="0.0000" stop-color="#c7c7c7"/><stop offset="0.0417" stop-color="#cdcdcd"/><stop offset="0.0833" stop-color="#d2d2d2"/><stop offset="0.1250" stop-color="#d8d8d8"/><stop offset="0.1667" stop-color="#dddddd"/><stop offset="0.2083" stop-color="#e1e1e1"/><stop offset="0.2500" stop-color="#e4e4e4"/><stop offset="0.2917" stop-color="#e7e7e7"/><stop offset="0.3333" stop-color="#e9e9e9"/><stop offset="0.3750" stop-color="#ebebeb"/><stop offset="0.4167" stop-color="#ebebeb"/><stop offset="0.4583" stop-color="#ececec"/><stop offset="0.5000" stop-color="#ececec"/><stop offset="0.5417" stop-color="#ececec"/><stop offset="0.5833" stop-color="#ececec"/><stop offset="0.6250" stop-color="#ececec"/><stop offset="0.6667" stop-color="#ebebeb"/><stop offset="0.7083" stop-color="#eaeaea"/><stop offset="0.7500" stop-color="#e9e9e9"/><stop offset="0.7917" stop-color="#e7e7e7"/><stop offset="0.8333" stop-color="#e4e4e4"/><stop offset="0.8750" stop-color="#e1e1e1"/><stop offset="0.9167" stop-color="#dcdcdc"/><stop offset="0.9583" stop-color="#d7d7d7"/><stop offset="1.0000" stop-color="#d2d2d2"/></linearGradient>
<linearGradient id="b34" gradientUnits="userSpaceOnUse" x1="0" y1="0" x2="768" y2="0"><stop offset="0.0000" stop-color="#c7c7c7"/><stop offset="0.0417" stop-color="#cccccc"/><stop offset="0.0833" stop-color="#d2d2d2"/><stop offset="0.1250" stop-color="#d7d7d7"/><stop offset="0.1667" stop-color="#dcdcdc"/><stop offset="0.2083" stop-color="#e0e0e0"/><stop offset="0.2500" stop-color="#e4e4e4"/><stop offset="0.2917" stop-color="#e6e6e6"/><stop offset="0.3333" stop-color="#e8e8e8"/><stop offset="0.3750" stop-color="#eaeaea"/><stop offset="0.4167" stop-color="#ebebeb"/><stop offset="0.4583" stop-color="#ebebeb"/><stop offset="0.5000" stop-color="#ebebeb"/><stop offset="0.5417" stop-color="#ebebeb"/><stop offset="0.5833" stop-color="#ebebeb"/><stop offset="0.6250" stop-color="#ebebeb"/><stop offset="0.6667" stop-color="#eaeaea"/><stop offset="0.7083" stop-color="#eaeaea"/><stop offset="0.7500" stop-color="#e8e8e8"/><stop offset="0.7917" stop-color="#e6e6e6"/><stop offset="0.8333" stop-color="#e3e3e3"/><stop offset="0.8750" stop-color="#e0e0e0"/><stop offset="0.9167" stop-color="#dcdcdc"/><stop offset="0.9583" stop-color="#d7d7d7"/><stop offset="1.0000" stop-color="#d1d1d1"/></linearGradient>
<linearGradient id="b35" gradientUnits="userSpaceOnUse" x1="0" y1="0" x2="768" y2="0"><stop offset="0.0000" stop-color="#c7c7c7"/><stop offset="0.0417" stop-color="#cccccc"/><stop offset="0.0833" stop-color="#d1d1d1"/><stop offset="0.1250" stop-color="#d7d7d7"/><stop offset="0.1667" stop-color="#dcdcdc"/><stop offset="0.2083" stop-color="#e0e0e0"/><stop offset="0.2500" stop-color="#e3e3e3"/><stop offset="0.2917" stop-color="#e6e6e6"/><stop offset="0.3333" stop-color="#e8e8e8"/><stop offset="0.3750" stop-color="#e9e9e9"/><stop offset="0.4167" stop-color="#eaeaea"/><stop offset="0.4583" stop-color="#eaeaea"/><stop offset="0.5000" stop-color="#eaeaea"/><stop offset="0.5417" stop-color="#eaeaea"/><stop offset="0.5833" stop-color="#eaeaea"/><stop offset="0.6250" stop-color="#eaeaea"/><stop offset="0.6667" stop-color="#eaeaea"/><stop offset="0.7083" stop-color="#e9e9e9"/><stop offset="0.7500" stop-color="#e7e7e7"/><stop offset="0.7917" stop-color="#e5e5e5"/><stop offset="0.8333" stop-color="#e3e3e3"/><stop offset="0.8750" stop-color="#dfdfdf"/><stop offset="0.9167" stop-color="#dbdbdb"/><stop offset="0.9583" stop-color="#d6d6d6"/><stop offset="1.0000" stop-color="#d1d1d1"/></linearGradient>
<linearGradient id="b36" gradientUnits="userSpaceOnUse" x1="0" y1="0" x2="768" y2="0"><stop offset="0.0000" stop-color="#c7c7c7"/><stop offset="0.0417" stop-color="#cccccc"/><stop offset="0.0833" stop-color="#d1d1d1"/><stop offset="0.1250" stop-color="#d6d6d6"/><stop offset="0.1667" stop-color="#dbdbdb"/><stop offset="0.2083" stop-color="#dfdfdf"/><stop offset="0.2500" stop-color="#e2e2e2"/><stop offset="0.2917" stop-color="#e5e5e5"/><stop offset="0.3333" stop-color="#e7e7e7"/><stop offset="0.3750" stop-color="#e8e8e8"/><stop offset="0.4167" stop-color="#e9e9e9"/><stop offset="0.4583" stop-color="#e9e9e9"/><stop offset="0.5000" stop-color="#e9e9e9"/><stop offset="0.5417" stop-color="#e9e9e9"/><stop offset="0.5833" stop-color="#e9e9e9"/><stop offset="0.6250" stop-color="#e9e9e9"/><stop offset="0.6667" stop-color="#e9e9e9"/><stop offset="0.7083" stop-color="#e8e8e8"/><stop offset="0.7500" stop-color="#e7e7e7"/><stop offset="0.7917" stop-color="#e5e5e5"/><stop offset="0.8333" stop-color="#e2e2e2"/><stop offset="0.8750" stop-color="#dfdfdf"/><stop offset="0.9167" stop-color="#dadada"/><stop offset="0.9583" stop-color="#d5d5d5"/><stop offset="1.0000" stop-color="#d0d0d0"/></linearGradient>
<linearGradient id="b37" gradientUnits="userSpaceOnUse" x1="0" y1="0" x2="768" y2="0"><stop offset="0.0000" stop-color="#c7c7c7"/><stop offset="0.0417" stop-color="#cbcbcb"/><stop offset="0.0833" stop-color="#d1d1d1"/><stop offset="0.1250" stop-color="#d6d6d6"/><stop offset="0.1667" stop-color="#dbdbdb"/><stop offset="0.2083" stop-color="#dfdfdf"/><stop offset="0.2500" stop-color="#e2e2e2"/><stop offset="0.2917" stop-color="#e4e4e4"/><stop offset="0.3333" stop-color="#e6e6e6"/><stop offset="0.3750" stop-color="#e7e7e7"/><stop offset="0.4167" stop-color="#e8e8e8"/><stop offset="0.4583" stop-color="#e8e8e8"/><stop offset="0.5000" stop-color="#e8e8e8"/><stop offset="0.5417" stop-color="#e8e8e8"/><stop offset="0.5833" stop-color="#e8e8e8"/><stop offset="0.6250" stop-color="#e8e8e8"/><stop offset="0.6667" stop-color="#e8e8e8"/><stop offset="0.7083" stop-color="#e7e7e7"/><stop offset="0.7500" stop-color="#e6e6e6"/><stop offset="0.7917" stop-color="#e4e4e4"/><stop offset="0.8333" stop-color="#e1e1e1"/><stop offset="0.8750" stop-color="#dedede"/><stop offset="0.9167" stop-color="#dadada"/><stop offset="0.9583" stop-color="#d5d5d5"/><stop offset="1.0000" stop-color="#d0d0d0"/></linearGradient>
<linearGradient id="b38" gradientUnits="userSpaceOnUse" x1="0" y1="0" x2="768" y2="0"><stop offset="0.0000" stop-color="#c7c7c7"/><stop offset="0.0417" stop-color="#cbcbcb"/><stop offset="0.0833" stop-color="#d0d0d0"/><stop offset="0.1250" stop-color="#d5d5d5"/><stop offset="0.1667" stop-color="#dadada"/><stop offset="0.2083" stop-color="#dedede"/><stop offset="0.2500" stop-color="#e1e1e1"/><stop offset="0.2917" stop-color="#e4e4e4"/><stop offset="0.3333" stop-color="#e5e5e5"/><stop offset="0.3750" stop-color="#e6e6e6"/><stop offset="0.4167" stop-color="#e7e7e7"/><stop offset="0.4583" stop-color="#e8e8e8"/><stop offset="0.5000" stop-color="#e8e8e8"/><stop offset="0.5417" stop-color="#e8e8e8"/><stop offset="0.5833" stop-color="#e8e8e8"/><stop offset="0.6250" stop-color="#e7e7e7"/><stop offset="0.6667" stop-color="#e7e7e7"/><stop offset="0.7083" stop-color="#e6e6e6"/><stop offset="0.7500" stop-color="#e5e5e5"/><stop offset="0.7917" stop-color="#e3e3e3"/><stop offset="0.8333" stop-color="#e1e1e1"/><stop offset="0.8750" stop-color="#dddddd"/><stop offset="0.9167" stop-color="#d9d9d9"/><stop offset="0.9583" stop-color="#d4d4d4"/><stop offset="1.0000" stop-color="#cfcfcf"/></linearGradient>
<linearGradient id="b39" gradientUnits="userSpaceOnUse" x1="0" y1="0" x2="768" y2="0"><stop offset="0.0000" stop-color="#c6c6c6"/><stop offset="0.0417" stop-color="#cbcbcb"/><stop offset="0.0833" stop-color="#d0d0d0"/><stop offset="0.1250" stop-color="#d5d5d5"/><stop offset="0.1667" stop-color="#d9d9d9"/><stop offset="0.2083" stop-color="#dddddd"/><stop offset="0.2500" stop-color="#e1e1e1"/><stop offset="0.2917" stop-color="#e3e3e3"/><stop offset="0.3333" stop-color="#e5e5e5"/><stop offset="0.3750" stop-color="#e6e6e6"/><stop offset="0.4167" stop-color="#e6e6e6"/><stop offset="0.4583" stop-color="#e7e7e7"/><stop offset="0.5000" stop-color="#e7e7e7"/><stop offset="0.5417" stop-color="#e7e7e7"/><stop offset="0.5833" stop-color="#e7e7e7"/><stop offset="0.6250" stop-color="#e7e7e7"/><stop offset="0.6667" stop-color="#e6e6e6"/><stop offset="0.7083" stop-color="#e5e5e5"/><stop offset="0.7500" stop-color="#e4e4e4"/><stop offset="0.7917" stop-color="#e2e2e2"/><stop offset="0.8333" stop-color="#e0e0e0"/><stop offset="0.8750" stop-color="#dddddd"/><stop offset="0.9167" stop-color="#d8d8d8"/><stop offset="0.9583" stop-color="#d4d4d4"/><stop offset="1.0000" stop-color="#cfcfcf"/></linearGradient>
<linearGradient id="b40" gradientUnits="userSpaceOnUse" x1="0" y1="0" x2="768" y2="0"><stop offset="0.0000" stop-color="#c6c6c6"/><stop offset="0.0417" stop-color="#cacaca"/><stop offset="0.0833" stop-color="#cfcfcf"/><stop offset="0.1250" stop-color="#d4d4d4"/><stop offset="0.1667" stop-color="#d9d9d9"/><stop offset="0.2083" stop-color="#dddddd"/><stop offset="0.2500" stop-color="#e0e0e0"/><stop offset="0.2917" stop-color="#e2e2e2"/><stop offset="0.3333" stop-color="#e4e4e4"/><stop offset="0.3750" stop-color="#e5e5e5"/><stop offset="0.4167" stop-color="#e6e6e6"/><stop offset="0.4583" stop-color="#e6e6e6"/><stop offset="0.5000" stop-color="#e6e6e6"/><stop offset="0.5417" stop-color="#e6e6e6"/><stop offset="0.5833" stop-color="#e6e6e6"/><stop offset="0.6250" stop-color="#e6e6e6"/><stop offset="0.6667" stop-color="#e5e5e5"/><stop offset="0.7083" stop-color="#e5e5e5"/><stop offset="0.7500" stop-color="#e3e3e3"/><stop offset="0.7917" stop-color="#e2e2e2"/><stop offset="0.8333" stop-color="#dfdfdf"/><stop offset="0.8750" stop-color="#dcdcdc"/><stop offset="0.9167" stop-color="#d8d8d8"/><stop offset="0.9583" stop-color="#d3d3d3"/><stop offset="1.0000" stop-color="#cecece"/></linearGradient>
<linearGradient id="b41" gradientUnits="userSpaceOnUse" x1="0" y1="0" x2="768" y2="0"><stop offset="0.0000" stop-color="#c6c6c6"/><stop offset="0.0417" stop-color="#cacaca"/><stop offset="0.0833" stop-color="#cfcfcf"/><stop offset="0.1250" stop-color="#d4d4d4"/><stop offset="0.1667" stop-color="#d8d8d8"/><stop offset="0.2083" stop-color="#dcdcdc"/><stop offset="0.2500" stop-color="#dfdfdf"/><stop offset="0.2917" stop-color="#e1e1e1"/><stop offset="0.3333" stop-color="#e3e3e3"/><stop offset="0.3750" stop-color="#e4e4e4"/><stop offset="0.4167" stop-color="#e5e5e5"/><stop offset="0.4583" stop-color="#e5e5e5"/><stop offset="0.5000" stop-color="#e5e5e5"/><stop offset="0.5417" stop-color="#e5e5e5"/><stop offset="0.5833" stop-color="#e5e5e5"/><stop offset="0.6250" stop-color="#e5e5e5"/><stop offset="0.6667" stop-color="#e5e5e5"/><stop offset="0.7083" stop-color="#e4e4e4"/><stop offset="0.7500" stop-color="#e3e3e3"/><stop offset="0.7917" stop-color="#e1e1e1"/><stop offset="0.8333" stop-color="#dedede"/><stop offset="0.8750" stop-color="#dbdbdb"/><stop offset="0.9167" stop-color="#d7d7d7"/><stop offset="0.9583" stop-color="#d2d2d2"/><stop offset="1.0000" stop-color="#cecece"/></linearGradient>
<linearGradient id="b42" gradientUnits="userSpaceOnUse" x1="0" y1="0" x2="768" y2="0"><stop offset="0.0000" stop-color="#c6c6c6"/><stop offset="0.0417" stop-color="#c9c9c9"/><stop offset="0.0833" stop-color="#cecece"/><stop offset="0.1250" stop-color="#d3d3d3"/><stop offset="0.1667" stop-color="#d8d8d8"/><stop offset="0.2083" stop-color="#dbdbdb"/><stop offset="0.2500" stop-color="#dfdfdf"/><stop offset="0.2917" stop-color="#e1e1e1"/><stop offset="0.3333" stop-color="#e2e2e2"/><stop offset="0.3750" stop-color="#e3e3e3"/><stop offset="0.4167" stop-color="#e4e4e4"/><stop offset="0.4583" stop-color="#e4e4e4"/><stop offset="0.5000" stop-color="#e4e4e4"/><stop offset="0.5417" stop-color="#e4e4e4"/><stop offset="0.5833" stop-color="#e4e4e4"/><stop offset="0.6250" stop-color="#e4e4e4"/><stop offset="0.6667" stop-color="#e4e4e4"/><stop offset="0.7083" stop-color="#e3e3e3"/><stop offset="0.7500" stop-color="#e2e2e2"/><stop offset="0.7917" stop-color="#e0e0e0"/><stop offset="0.8333" stop-color="#dedede"/><stop offset="0.8750" stop-color="#dadada"/><stop offset="0.9167" stop-color="#d6d6d6"/><stop offset="0.9583" stop-color="#d2d2d2"/><stop offset="1.0000" stop-color="#cdcdcd"/></linearGradient>
<linearGradient id="b43" gradientUnits="userSpaceOnUse" x1="0" y1="0" x2="768" y2="0"><stop offset="0.0000" stop-color="#c6c6c6"/><stop offset="0.0417" stop-color="#c9c9c9"/><stop offset="0.0833" stop-color="#cecece"/><stop offset="0.1250" stop-color="#d3d3d3"/><stop offset="0.1667" stop-color="#d7d7d7"/><stop offset="0.2083" stop-color="#dbdbdb"/><stop offset="0.2500" stop-color="#dedede"/><stop offset="0.2917" stop-color="#e0e0e0"/><stop offset="0.3333" stop-color="#e1e1e1"/><stop offset="0.3750" stop-color="#e2e2e2"/><stop offset="0.4167" stop-color="#e3e3e3"/><stop offset="0.4583" stop-color="#e3e3e3"/><stop offset="0.5000" stop-color="#e3e3e3"/><stop offset="0.5417" stop-color="#e3e3e3"/><stop offset="0.5833" stop-color="#e3e3e3"/><stop offset="0.6250" stop-color="#e3e3e3"/><stop offset="0.6667" stop-color="#e3e3e3"/><stop offset="0.7083" stop-color="#e2e2e2"/><stop offset="0.7500" stop-color="#e1e1e1"/><stop offset="0.7917" stop-color="#dfdfdf"/><stop offset="0.8333" stop-color="#dddddd"/><stop offset="0.8750" stop-color="#dadada"/><stop offset="0.9167" stop-color="#d6d6d6"/><stop offset="0.9583" stop-color="#d1d1d1"/><stop offset="1.0000" stop-color="#cccccc"/></linearGradient>
<linearGradient id="b44" gradientUnits="userSpaceOnUse" x1="0" y1="0" x2="768" y2="0"><stop offset="0.0000" stop-color="#c6c6c6"/><stop offset="0.0417" stop-color="#c9c9c9"/><stop offset="0.0833" stop-color="#cecece"/><stop offset="0.1250" stop-color="#d2d2d2"/><stop offset="0.1667" stop-color="#d6d6d6"/><stop offset="0.2083" stop-color="#dadada"/><stop offset="0.2500" stop-color="#dddddd"/><stop offset="0.2917" stop-color="#dfdfdf"/><stop offset="0.3333" stop-color="#e1e1e1"/><stop offset="0.3750" stop-color="#e2e2e2"/><stop offset="0.4167" stop-color="#e2e2e2"/><stop offset="0.4583" stop-color="#e3e3e3"/><stop offset="0.5000" stop-color="#e3e3e3"/><stop offset="0.5417" stop-color="#e3e3e3"/><stop offset="0.5833" stop-color="#e3e3e3"/><stop offset="0.6250" stop-color="#e2e2e2"/><stop offset="0.6667" stop-color="#e2e2e2"/><stop offset="0.7083" stop-color="#e1e1e1"/><stop offset="0.7500" stop-color="#e0e0e0"/><stop offset="0.7917" stop-color="#dfdfdf"/><stop offset="0.8333" stop-color="#dcdcdc"/><stop offset="0.8750" stop-color="#d9d9d9"/><stop offset="0.9167" stop-color="#d5d5d5"/><stop offset="0.9583" stop-color="#d0d0d0"/><stop offset="1.0000" stop-color="#cccccc"/></linearGradient>
<linearGradient id="b45" gradientUnits="userSpaceOnUse" x1="0" y1="0" x2="768" y2="0"><stop offset="0.0000" stop-color="#c6c6c6"/><stop offset="0.0417" stop-color="#c8c8c8"/><stop offset="0.0833" stop-color="#cdcdcd"/><stop offset="0.1250" stop-color="#d1d1d1"/><stop offset="0.1667" stop-color="#d6d6d6"/><stop offset="0.2083" stop-color="#d9d9d9"/><stop offset="0.2500" stop-color="#dcdcdc"/><stop offset="0.2917" stop-color="#dedede"/><stop offset="0.3333" stop-color="#e0e0e0"/><stop offset="0.3750" stop-color="#e1e1e1"/><stop offset="0.4167" stop-color="#e1e1e1"/><stop offset="0.4583" stop-color="#e2e2e2"/><stop offset="0.5000" stop-color="#e2e2e2"/><stop offset="0.5417" stop-color="#e2e2e2"/><stop offset="0.5833" stop-color="#e2e2e2"/><stop offset="0.6250" stop-color="#e2e2e2"/><stop offset="0.6667" stop-color="#e1e1e1"/><stop offset="0.7083" stop-color="#e1e1e1"/><stop offset="0.7500" stop-color="#dfdfdf"/><stop offset="0.7917" stop-color="#dedede"/><stop offset="0.8333" stop-color="#dbdbdb"/><stop offset="0.8750" stop-color="#d8d8d8"/><stop offset="0.9167" stop-color="#d4d4d4"/><stop offset="0.9583" stop-color="#d0d0d0"/><stop offset="1.0000" stop-color="#cbcbcb"/></linearGradient>
<linearGradient id="b46" gradientUnits="userSpaceOnUse" x1="0" y1="0" x2="768" y2="0"><stop offset="0.0000" stop-color="#c6c6c6"/><stop offset="0.0417" stop-color="#c8c8c8"/><stop offset="0.0833" stop-color="#cdcdcd"/><stop offset="0.1250" stop-color="#d1d1d1"/><stop offset="0.1667" stop-color="#d5d5d5"/><stop offset="0.2083" stop-color="#d8d8d8"/><stop offset="0.2500" stop-color="#dbdbdb"/><stop offset="0.2917" stop-color="#dedede"/><stop offset="0.3333" stop-color="#dfdfdf"/><stop offset="0.3750" stop-color="#e0e0e0"/><stop offset="0.4167" stop-color="#e1e1e1"/><stop offset="0.4583" stop-color="#e1e1e1"/><stop offset="0.5000" stop-color="#e1e1e1"/><stop offset="0.5417" stop-color="#e1e1e1"/><stop offset="0.5833" stop-color="#e1e1e1"/><stop offset="0.6250" stop-color="#e1e1e1"/><stop offset="0.6667" stop-color="#e0e0e0"/><stop offset="0.7083" stop-color="#e0e0e0"/><stop offset="0.7500" stop-color="#dfdfdf"/><stop offset="0.7917" stop-color="#dddddd"/><stop offset="0.8333" stop-color="#dadada"/><stop offset="0.8750" stop-color="#d7d7d7"/><stop offset="0.9167" stop-color="#d3d3d3"/><stop offset="0.9583" stop-color="#cfcfcf"/><stop offset="1.0000" stop-color="#cbcbcb"/></linearGradient>
<linearGradient id="b47" gradientUnits="userSpaceOnUse" x1="0" y1="0" x2="768" y2="0"><stop offset="0.0000" stop-color="#c6c6c6"/><stop offset="0.0417" stop-color="#c7c7c7"/><stop offset="0.0833" stop-color="#cccccc"/><stop offset="0.1250" stop-color="#d0d0d0"/><stop offset="0.1667" stop-color="#d4d4d4"/><stop offset="0.2083" stop-color="#d8d8d8"/><stop offset="0.2500" stop-color="#dbdbdb"/><stop offset="0.2917" stop-color="#dddddd"/><stop offset="0.3333" stop-color="#dedede"/><stop offset="0.3750" stop-color="#dfdfdf"/><stop offset="0.4167" stop-color="#e0e0e0"/><stop offset="0.4583" stop-color="#e0e0e0"/><stop offset="0.5000" stop-color="#e0e0e0"/><stop offset="0.5417" stop-color="#e0e0e0"/><stop offset="0.5833" stop-color="#e0e0e0"/><stop offset="0.6250" stop-color="#e0e0e0"/><stop offset="0.6667" stop-color="#e0e0e0"/><stop offset="0.7083" stop-color="#dfdfdf"/><stop offset="0.7500" stop-color="#dedede"/><stop offset="0.7917" stop-color="#dcdcdc"/><stop offset="0.8333" stop-color="#d9d9d9"/><stop offset="0.8750" stop-color="#d6d6d6"/><stop offset="0.9167" stop-color="#d3d3d3"/><stop offset="0.9583" stop-color="#cfcfcf"/><stop offset="1.0000" stop-color="#cacaca"/></linearGradient>
<linearGradient id="b48" gradientUnits="userSpaceOnUse" x1="0" y1="0" x2="768" y2="0"><stop offset="0.0000" stop-color="#c6c6c6"/><stop offset="0.0417" stop-color="#c7c7c7"/><stop offset="0.0833" stop-color="#cccccc"/><stop offset="0.1250" stop-color="#d0d0d0"/><stop offset="0.1667" stop-color="#d4d4d4"/><stop offset="0.2083" stop-color="#d7d7d7"/><stop offset="0.2500" stop-color="#dadada"/><stop offset="0.2917" stop-color="#dcdcdc"/><stop offset="0.3333" stop-color="#dddddd"/><stop offset="0.3750" stop-color="#dedede"/><stop offset="0.4167" stop-color="#dfdfdf"/><stop offset="0.4583" stop-color="#dfdfdf"/><stop offset="0.5000" stop-color="#dfdfdf"/><stop offset="0.5417" stop-color="#dfdfdf"/><stop offset="0.5833" stop-color="#dfdfdf"/><stop offset="0.6250" stop-color="#dfdfdf"/><stop offset="0.6667" stop-color="#dfdfdf"/><stop offset="0.7083" stop-color="#dedede"/><stop offset="0.7500" stop-color="#dddddd"/><stop offset="0.7917" stop-color="#dbdbdb"/><stop offset="0.8333" stop-color="#d9d9d9"/><stop offset="0.8750" stop-color="#d6d6d6"/><stop offset="0.9167" stop-color="#d2d2d2"/><stop offset="0.9583" stop-color="#cecece"/><stop offset="1.0000" stop-color="#cacaca"/></linearGradient>
<linearGradient id="b49" gradientUnits="userSpaceOnUse" x1="0" y1="0" x2="768" y2="0"><stop offset="0.0000" stop-color="#c5c5c5"/><stop offset="0.0417" stop-color="#c7c7c7"/><stop offset="0.0833" stop-color="#cbcbcb"/><stop offset="0.1250" stop-color="#cfcfcf"/><stop offset="0.1667" stop-color="#d3d3d3"/><stop offset="0.2083" stop-color="#d6d6d6"/><stop offset="0.2500" stop-color="#d9d9d9"/><stop offset="0.2917" stop-color="#dbdbdb"/><stop offset="0.3333" stop-color="#dddddd"/><stop offset="0.3750" stop-color="#dedede"/><stop offset="0.4167" stop-color="#dedede"/><stop offset="0.4583" stop-color="#dedede"/><stop offset="0.5000" stop-color="#dedede"/><stop offset="0.5417" stop-color="#dedede"/><stop offset="0.5833" stop-color="#dedede"/><stop offset="0.6250" stop-color="#dedede"/><stop offset="0.6667" stop-color="#dedede"/><stop offset="0.7083" stop-color="#dddddd"/><stop offset="0.7500" stop-color="#dcdcdc"/><stop offset="0.7917" stop-color="#dadada"/><stop offset="0.8333" stop-color="#d8d8d8"/><stop offset="0.8750" stop-color="#d5d5d5"/><stop offset="0.9167" stop-color="#d1d1d1"/><stop offset="0.9583" stop-color="#cdcdcd"/><stop offset="1.0000" stop-color="#c9c9c9"/></linearGradient>
<linearGradient id="b50" gradientUnits="userSpaceOnUse" x1="0" y1="0" x2="768" y2="0"><stop offset="0.0000" stop-color="#c5c5c5"/><stop offset="0.0417" stop-color="#c7c7c7"/><stop offset="0.0833" stop-color="#cbcbcb"/><stop offset="0.1250" stop-color="#cfcfcf"/><stop offset="0.1667" stop-color="#d2d2d2"/><stop offset="0.2083" stop-color="#d5d5d5"/><stop offset="0.2500" stop-color="#d8d8d8"/><stop offset="0.2917" stop-color="#dadada"/><stop offset="0.3333" stop-color="#dcdcdc"/><stop offset="0.3750" stop-color="#dddddd"/><stop offset="0.4167" stop-color="#dddddd"/><stop offset="0.4583" stop-color="#dddddd"/><stop offset="0.5000" stop-color="#dddddd"/><stop offset="0.5417" stop-color="#dddddd"/><stop offset="0.5833" stop-color="#dddddd"/><stop offset="0.6250" stop-color="#dddddd"/><stop offset="0.6667" stop-color="#dddddd"/><stop offset="0.7083" stop-color="#dcdcdc"/><stop offset="0.7500" stop-color="#dbdbdb"/><stop offset="0.7917" stop-color="#d9d9d9"/><stop offset="0.8333" stop-color="#d7d7d7"/><stop offset="0.8750" stop-color="#d4d4d4"/><stop offset="0.9167" stop-color="#d1d1d1"/><stop offset="0.9583" stop-color="#cdcdcd"/><stop offset="1.0000" stop-color="#c8c8c8"/></linearGradient>
<linearGradient id="b51" gradientUnits="userSpaceOnUse" x1="0" y1="0" x2="768" y2="0"><stop offset="0.0000" stop-color="#c5c5c5"/><stop offset="0.0417" stop-color="#c7c7c7"/><stop offset="0.0833" stop-color="#cacaca"/><stop offset="0.1250" stop-color="#cecece"/><stop offset="0.1667" stop-color="#d1d1d1"/><stop offset="0.2083" stop-color="#d5d5d5"/><stop offset="0.2500" stop-color="#d7d7d7"/><stop offset="0.2917" stop-color="#d9d9d9"/><stop offset="0.3333" stop-color="#dbdbdb"/><stop offset="0.3750" stop-color="#dcdcdc"/><stop offset="0.4167" stop-color="#dcdcdc"/><stop offset="0.4583" stop-color="#dcdcdc"/><stop offset="0.5000" stop-color="#dcdcdc"/><stop offset="0.5417" stop-color="#dcdcdc"/><stop offset="0.5833" stop-color="#dcdcdc"/><stop offset="0.6250" stop-color="#dcdcdc"/><stop offset="0.6667" stop-color="#dcdcdc"/><stop offset="0.7083" stop-color="#dbdbdb"/><stop offset="0.7500" stop-color="#dadada"/><stop offset="0.7917" stop-color="#d8d8d8"/><stop offset="0.8333" stop-color="#d6d6d6"/><stop offset="0.8750" stop-color="#d3d3d3"/><stop offset="0.9167" stop-color="#d0d0d0"/><stop offset="0.9583" stop-color="#cccccc"/><stop offset="1.0000" stop-color="#c8c8c8"/></linearGradient>
<linearGradient id="b52" gradientUnits="userSpaceOnUse" x1="0" y1="0" x2="768" y2="0"><stop offset="0.0000" stop-color="#c5c5c5"/><stop offset="0.0417" stop-color="#c6c6c6"/><stop offset="0.0833" stop-color="#c9c9c9"/><stop offset="0.1250" stop-color="#cdcdcd"/><stop offset="0.1667" stop-color="#d1d1d1"/><stop offset="0.2083" stop-color="#d4d4d4"/><stop offset="0.2500" stop-color="#d7d7d7"/><stop offset="0.2917" stop-color="#d8d8d8"/><stop offset="0.3333" stop-color="#dadada"/><stop offset="0.3750" stop-color="#dbdbdb"/><stop offset="0.4167" stop-color="#dbdbdb"/><stop offset="0.4583" stop-color="#dcdcdc"/><stop offset="0.5000" stop-color="#dcdcdc"/><stop offset="0.5417" stop-color="#dcdcdc"/><stop offset="0.5833" stop-color="#dcdcdc"/><stop offset="0.6250" stop-color="#dbdbdb"/><stop offset="0.6667" stop-color="#dbdbdb"/><stop offset="0.7083" stop-color="#dadada"/><stop offset="0.7500" stop-color="#d9d9d9"/><stop offset="0.7917" stop-color="#d8d8d8"/><stop offset="0.8333" stop-color="#d5d5d5"/><stop offset="0.8750" stop-color="#d2d2d2"/><stop offset="0.9167" stop-color="#cfcfcf"/><stop offset="0.9583" stop-color="#cbcbcb"/><stop offset="1.0000" stop-color="#c7c7c7"/></linearGradient>
<linearGradient id="gl" gradientUnits="userSpaceOnUse" x1="0" y1="39.0" x2="0" y2="415.6">
<stop offset="0" stop-color="#ececec"/><stop offset="0.175" stop-color="#e3e3e3"/><stop offset="0.56" stop-color="#d2d2d2"/><stop offset="0.77" stop-color="#c0c0c0"/><stop offset="0.96" stop-color="#a6a6a6"/><stop offset="1" stop-color="#9e9e9e"/>
</linearGradient>
</defs>
<rect x="0" y="0" width="768" height="9" fill="url(#b0)"/>
<rect x="0" y="8" width="768" height="9" fill="url(#b1)"/>
<rect x="0" y="16" width="768" height="9" fill="url(#b2)"/>
<rect x="0" y="24" width="768" height="9" fill="url(#b3)"/>
<rect x="0" y="32" width="768" height="9" fill="url(#b4)"/>
<rect x="0" y="40" width="768" height="9" fill="url(#b5)"/>
<rect x="0" y="48" width="768" height="9" fill="url(#b6)"/>
<rect x="0" y="56" width="768" height="9" fill="url(#b7)"/>
<rect x="0" y="64" width="768" height="9" fill="url(#b8)"/>
<rect x="0" y="72" width="768" height="9" fill="url(#b9)"/>
<rect x="0" y="80" width="768" height="9" fill="url(#b10)"/>
<rect x="0" y="88" width="768" height="9" fill="url(#b11)"/>
<rect x="0" y="96" width="768" height="9" fill="url(#b12)"/>
<rect x="0" y="104" width="768" height="9" fill="url(#b13)"/>
<rect x="0" y="112" width="768" height="9" fill="url(#b14)"/>
<rect x="0" y="120" width="768" height="9" fill="url(#b15)"/>
<rect x="0" y="128" width="768" height="9" fill="url(#b16)"/>
<rect x="0" y="136" width="768" height="9" fill="url(#b17)"/>
<rect x="0" y="144" width="768" height="9" fill="url(#b18)"/>
<rect x="0" y="152" width="768" height="9" fill="url(#b19)"/>
<rect x="0" y="160" width="768" height="9" fill="url(#b20)"/>
<rect x="0" y="168" width="768" height="9" fill="url(#b21)"/>
<rect x="0" y="176" width="768" height="9" fill="url(#b22)"/>
<rect x="0" y="184" width="768" height="9" fill="url(#b23)"/>
<rect x="0" y="192" width="768" height="9" fill="url(#b24)"/>
<rect x="0" y="200" width="768" height="9" fill="url(#b25)"/>
<rect x="0" y="208" width="768" height="9" fill="url(#b26)"/>
<rect x="0" y="216" width="768" height="9" fill="url(#b27)"/>
<rect x="0" y="224" width="768" height="9" fill="url(#b28)"/>
<rect x="0" y="232" width="768" height="9" fill="url(#b29)"/>
<rect x="0" y="240" width="768" height="9" fill="url(#b30)"/>
<rect x="0" y="248" width="768" height="9" fill="url(#b31)"/>
<rect x="0" y="256" width="768" height="9" fill="url(#b32)"/>
<rect x="0" y="264" width="768" height="9" fill="url(#b33)"/>
<rect x="0" y="272" width="768" height="9" fill="url(#b34)"/>
<rect x="0" y="280" width="768" height="9" fill="url(#b35)"/>
<rect x="0" y="288" width="768" height="9" fill="url(#b36)"/>
<rect x="0" y="296" width="768" height="9" fill="url(#b37)"/>
<rect x="0" y="304" width="768" height="9" fill="url(#b38)"/>
<rect x="0" y="312" width="768" height="9" fill="url(#b39)"/>
<rect x="0" y="320" width="768" height="9" fill="url(#b40)"/>
<rect x="0" y="328" width="768" height="9" fill="url(#b41)"/>
<rect x="0" y="336" width="768" height="9" fill="url(#b42)"/>
<rect x="0" y="344" width="768" height="9" fill="url(#b43)"/>
<rect x="0" y="352" width="768" height="9" fill="url(#b44)"/>
<rect x="0" y="360" width="768" height="9" fill="url(#b45)"/>
<rect x="0" y="368" width="768" height="9" fill="url(#b46)"/>
<rect x="0" y="376" width="768" height="9" fill="url(#b47)"/>
<rect x="0" y="384" width="768" height="9" fill="url(#b48)"/>
<rect x="0" y="392" width="768" height="9" fill="url(#b49)"/>
<rect x="0" y="400" width="768" height="9" fill="url(#b50)"/>
<rect x="0" y="408" width="768" height="9" fill="url(#b51)"/>
<rect x="0" y="416" width="768" height="9" fill="url(#b52)"/>
<rect x="167.95" y="39.0" width="0.9" height="376.6" fill="url(#gl)"/>
<rect x="258.10" y="39.0" width="0.9" height="376.6" fill="url(#gl)"/>
<rect x="348.80" y="39.0" width="0.9" height="376.6" fill="url(#gl)"/>
<rect x="439.15" y="39.0" width="0.9" height="376.6" fill="url(#gl)"/>
<rect x="529.90" y="39.0" width="0.9" height="376.6" fill="url(#gl)"/>
<rect x="620.00" y="39.0" width="0.9" height="376.6" fill="url(#gl)"/>
<rect x="710.95" y="39.0" width="0.9" height="376.6" fill="url(#gl)"/>
<rect x="78.1" y="42.99" width="620.31" height="10.85" fill="#5b9bd5" fill-opacity="0.86"/>
<rect x="78.1" y="61.82" width="448.63" height="10.85" fill="#5b9bd5" fill-opacity="0.86"/>
<rect x="78.1" y="80.65" width="430.54" height="10.85" fill="#5b9bd5" fill-opacity="0.86"/>
<rect x="78.1" y="99.48" width="405.22" height="10.85" fill="#5b9bd5" fill-opacity="0.86"/>
<rect x="78.1" y="118.31" width="388.93" height="10.85" fill="#5b9bd5" fill-opacity="0.86"/>
<rect x="78.1" y="137.14" width="323.81" height="10.85" fill="#5b9bd5" fill-opacity="0.86"/>
<rect x="78.1" y="155.97" width="303.91" height="10.85" fill="#5b9bd5" fill-opacity="0.86"/>
<rect x="78.1" y="174.80" width="291.25" height="10.85" fill="#5b9bd5" fill-opacity="0.86"/>
<rect x="78.1" y="193.63" width="282.20" height="10.85" fill="#5b9bd5" fill-opacity="0.86"/>
<rect x="78.1" y="212.46" width="258.69" height="10.85" fill="#5b9bd5" fill-opacity="0.86"/>
<rect x="78.1" y="231.29" width="235.17" height="10.85" fill="#5b9bd5" fill-opacity="0.86"/>
<rect x="78.1" y="250.12" width="217.08" height="10.85" fill="#5b9bd5" fill-opacity="0.86"/>
<rect x="78.1" y="268.95" width="206.23" height="10.85" fill="#5b9bd5" fill-opacity="0.86"/>
<rect x="78.1" y="287.78" width="198.99" height="10.85" fill="#5b9bd5" fill-opacity="0.86"/>
<rect x="78.1" y="306.61" width="188.14" height="10.85" fill="#5b9bd5" fill-opacity="0.86"/>
<rect x="78.1" y="325.44" width="179.81" height="10.85" fill="#5b9bd5" fill-opacity="0.86"/>
<rect x="78.1" y="344.27" width="175.47" height="10.85" fill="#5b9bd5" fill-opacity="0.86"/>
<rect x="78.1" y="363.10" width="164.62" height="10.85" fill="#5b9bd5" fill-opacity="0.86"/>
<rect x="78.1" y="381.93" width="162.81" height="10.85" fill="#5b9bd5" fill-opacity="0.86"/>
<rect x="78.1" y="400.76" width="161.00" height="10.85" fill="#5b9bd5" fill-opacity="0.86"/>
<rect x="77.7" y="38.8" width="2.1" height="376.8" fill="#404040"/>
<ellipse cx="-0.4" cy="217.6" rx="1.4" ry="2.7" fill="#9c9c9c"/>
<text class="lbl" x="18.32" y="50.87" textLength="47.57" lengthAdjust="spacingAndGlyphs">МОЛДОВА</text>
<text class="lbl" x="23.44" y="69.70" textLength="43.16" lengthAdjust="spacingAndGlyphs">ЭСТОНИЯ</text>
<text class="lbl" x="24.15" y="88.52" textLength="41.74" lengthAdjust="spacingAndGlyphs">УКРАИНА</text>
<text class="lbl" x="38.53" y="107.36" textLength="29.66" lengthAdjust="spacingAndGlyphs">ЛИТВА</text>
<text class="lbl" x="31.04" y="126.18" textLength="35.58" lengthAdjust="spacingAndGlyphs">ЛАТВИЯ</text>
<text class="lbl" x="21.19" y="145.01" textLength="45.67" lengthAdjust="spacingAndGlyphs">БЕЛАРУСЬ</text>
<text class="lbl" x="7.33" y="163.84" textLength="59.30" lengthAdjust="spacingAndGlyphs">МАКЕДОНИЯ</text>
<text class="lbl" x="28.05" y="182.67" textLength="40.15" lengthAdjust="spacingAndGlyphs">ПОЛЬША</text>
<text class="lbl" x="26.40" y="201.50" textLength="40.18" lengthAdjust="spacingAndGlyphs">ВЕНГРИЯ</text>
<text class="lbl" x="30.41" y="220.33" textLength="36.16" lengthAdjust="spacingAndGlyphs">РОССИЯ</text>
<text class="lbl" x="28.67" y="239.16" textLength="37.68" lengthAdjust="spacingAndGlyphs">КОСОВО</text>
<text class="lbl" x="2.09" y="258.00" textLength="64.57" lengthAdjust="spacingAndGlyphs">НИДЕРЛАНДЫ</text>
<text class="lbl" x="32.61" y="276.82" textLength="33.96" lengthAdjust="spacingAndGlyphs">ГРЕЦИЯ</text>
<text class="lbl" x="17.54" y="295.65" textLength="49.05" lengthAdjust="spacingAndGlyphs">СЛОВЕНИЯ</text>
<text class="lbl" x="22.27" y="314.49" textLength="44.34" lengthAdjust="spacingAndGlyphs">ИСПАНИЯ</text>
<text class="lbl" x="26.89" y="333.31" textLength="39.69" lengthAdjust="spacingAndGlyphs">БЕЛЬГИЯ</text>
<text class="lbl" x="15.34" y="352.14" textLength="51.29" lengthAdjust="spacingAndGlyphs">ИСЛАНДИЯ</text>
<text class="lbl" x="25.78" y="370.97" textLength="40.81" lengthAdjust="spacingAndGlyphs">АВСТРИЯ</text>
<text class="lbl" x="9.66" y="389.80" textLength="59.25" lengthAdjust="spacingAndGlyphs">ПОРТУГАЛИЯ</text>
<text class="lbl" x="44.05" y="408.63" textLength="24.65" lengthAdjust="spacingAndGlyphs">КИПР</text>
<text class="val" x="668.11" y="51.56" textLength="23.50" lengthAdjust="spacingAndGlyphs">34,29</text>
<text class="val" x="501.68" y="70.40" textLength="18.25" lengthAdjust="spacingAndGlyphs">24,8</text>
<text class="val" x="483.59" y="89.22" textLength="18.25" lengthAdjust="spacingAndGlyphs">23,8</text>
<text class="val" x="458.27" y="108.06" textLength="18.25" lengthAdjust="spacingAndGlyphs">22,4</text>
<text class="val" x="441.99" y="126.88" textLength="18.25" lengthAdjust="spacingAndGlyphs">21,5</text>
<text class="val" x="376.86" y="145.71" textLength="18.25" lengthAdjust="spacingAndGlyphs">17,9</text>
<text class="val" x="356.96" y="164.54" textLength="18.25" lengthAdjust="spacingAndGlyphs">16,8</text>
<text class="val" x="344.30" y="183.38" textLength="18.25" lengthAdjust="spacingAndGlyphs">16,1</text>
<text class="val" x="335.25" y="202.20" textLength="18.25" lengthAdjust="spacingAndGlyphs">15,6</text>
<text class="val" x="311.74" y="221.03" textLength="18.25" lengthAdjust="spacingAndGlyphs">14,3</text>
<text class="val" x="295.97" y="239.86" textLength="10.50" lengthAdjust="spacingAndGlyphs">13</text>
<text class="val" x="277.88" y="258.69" textLength="10.50" lengthAdjust="spacingAndGlyphs">12</text>
<text class="val" x="259.28" y="277.52" textLength="18.25" lengthAdjust="spacingAndGlyphs">11,4</text>
<text class="val" x="259.79" y="296.35" textLength="10.50" lengthAdjust="spacingAndGlyphs">11</text>
<text class="val" x="241.19" y="315.19" textLength="18.25" lengthAdjust="spacingAndGlyphs">10,4</text>
<text class="val" x="232.86" y="334.01" textLength="18.25" lengthAdjust="spacingAndGlyphs">9,94</text>
<text class="val" x="233.77" y="352.84" textLength="13.00" lengthAdjust="spacingAndGlyphs">9,7</text>
<text class="val" x="222.92" y="371.67" textLength="13.00" lengthAdjust="spacingAndGlyphs">9,1</text>
<text class="val" x="228.86" y="390.50" textLength="5.25" lengthAdjust="spacingAndGlyphs">9</text>
<text class="val" x="219.30" y="409.33" textLength="13.00" lengthAdjust="spacingAndGlyphs">8,9</text>
<text class="ttl" x="63.88" y="23.40" textLength="56.44" lengthAdjust="spacingAndGlyphs">Топ-20</text>
<text class="ttl" x="127.18" y="23.40" textLength="115.02" lengthAdjust="spacingAndGlyphs">европейских</text>
<text class="ttl" x="248.19" y="23.40" textLength="49.98" lengthAdjust="spacingAndGlyphs">стран</text>
<text class="ttl" x="303.77" y="23.40" textLength="8.57" lengthAdjust="spacingAndGlyphs">с</text>
<text class="ttl" x="318.18" y="23.40" textLength="55.69" lengthAdjust="spacingAndGlyphs">самой</text>
<text class="ttl" x="380.41" y="23.40" textLength="76.67" lengthAdjust="spacingAndGlyphs">высокой</text>
<text class="ttl" x="462.91" y="23.40" textLength="100.42" lengthAdjust="spacingAndGlyphs">инфляцией</text>
<text class="ttl" x="570.79" y="23.40" textLength="59.82" lengthAdjust="spacingAndGlyphs">(август</text>
<text class="ttl" x="637.25" y="23.40" textLength="47.84" lengthAdjust="spacingAndGlyphs">2022)</text>
</svg>
</body></html>
